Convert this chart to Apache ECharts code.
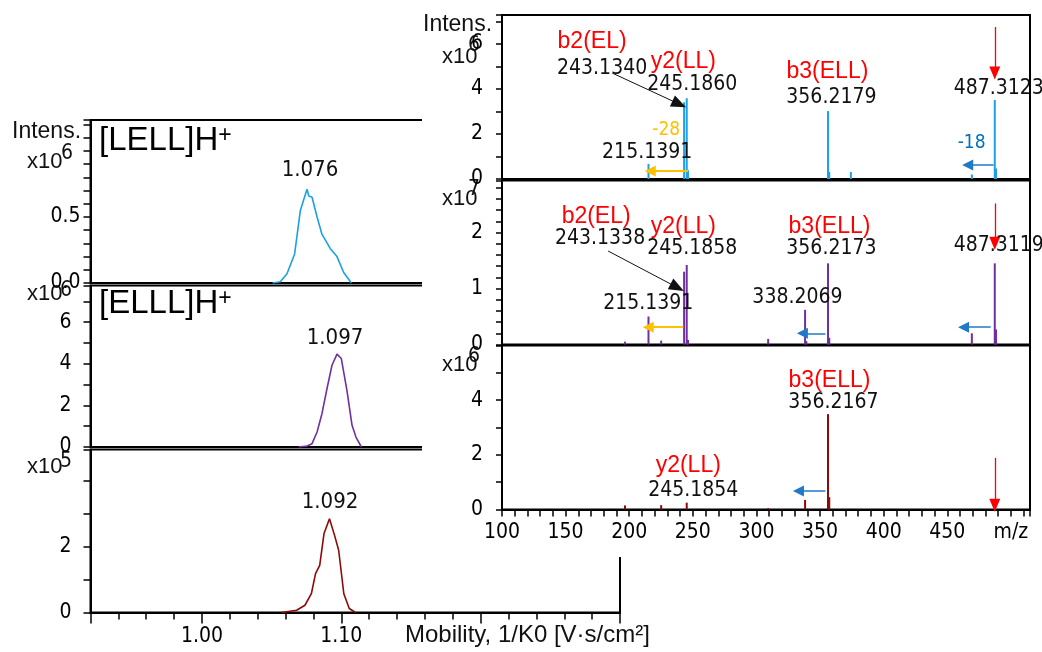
<!DOCTYPE html>
<html><head><meta charset="utf-8">
<script src="https://cdn.jsdelivr.net/npm/echarts@6/dist/echarts.min.js"></script>
<style>
html,body{margin:0;padding:0;background:#fff;}
#left{position:absolute;left:0;top:0;width:1042px;height:652px;}
#right{position:absolute;left:422px;top:0;width:620px;height:557px;background:#fff;}
</style></head><body>
<div id="left"></div><div id="right"></div>
<script>
// ---------- DATA ----------
// Mobilograms: [1/K0, intensity]
const mobLELL = [[1.0507,0],[1.0562,0.01],[1.061,0.07],[1.0665,0.22],[1.0706,0.55],[1.073,0.63],[1.0754,0.71],[1.0766,0.66],[1.079,0.65],[1.0826,0.50],[1.0861,0.37],[1.0921,0.26],[1.0969,0.20],[1.1017,0.08],[1.1072,0]];
const mobELLL = [[1.0694,0],[1.0754,0.05],[1.079,0.16],[1.0826,0.72],[1.0861,1.6],[1.0897,2.8],[1.0933,3.93],[1.0969,4.46],[1.1,4.25],[1.104,2.73],[1.1077,1.04],[1.1105,0.48],[1.1144,0]];
const mobMix = [[1.0573,0],[1.0619,0.03],[1.0679,0.07],[1.0739,0.22],[1.0785,0.57],[1.0815,1.18],[1.0845,1.43],[1.0876,2.4],[1.0915,2.85],[1.0951,2.35],[1.0981,1.89],[1.1018,0.57],[1.1057,0.12],[1.1102,0]];
const mobPeakLabels = ['1.076','1.097','1.092'];
const mobPeakPos = [[1.0775,0.854],[1.0955,5.23],[1.0919,3.35]];
const mobNames = ['[LELL]H','[ELLL]H'];
const mobXTickLabels = ['1.00','1.10'];
const mobYTickLabels = [['0.0','0.5'],['0','2','4','6'],['0','2']];
const mobYTickValues = [[0,0.5],[0,2,4,6],[0,2]];

// Spectra: m/z and intensity
const specTopMz  = [215.14,243.13,245.19,246.19,356.22,357.22,374.2,469.30,487.31,488.31];
const specTopInt = [0.67,3.41,3.59,0.40,3.02,0.31,0.31,0.20,3.51,0.47];
const specMidMz  = [196.7,215.14,225.1,243.13,245.19,246.19,309.2,338.21,339.21,356.22,357.22,469.30,487.31,488.31];
const specMidInt = [0.05,0.50,0.07,1.30,1.42,0.08,0.10,0.62,0.06,1.45,0.12,0.20,1.45,0.27];
const specBotMz  = [196.7,225.1,245.19,309.2,338.21,356.22,357.22];
const specBotInt = [0.15,0.16,0.25,0.05,0.35,3.49,0.45];
const specXTickValues = [100,150,200,250,300,350,400,450,500];
const specXTickLabels = ['100','150','200','250','300','350','400','450','m/z'];
const specYTickValues = [[0,2,4,6],[0,1,2],[0,2,4]];
const specYTickLabels = [['0','2','4','6'],['0','1','2'],['0','2','4']];

// Annotations (text, m/z, intensity, kind)
const topTexts = [['b2(EL)',170.8,6.09,'ion'],['243.1340',178.7,4.93,'mass'],['y2(LL)',242.5,5.2,'ion'],['245.1860',249.5,4.18,'mass'],['b3(ELL)',355.8,4.76,'ion'],['356.2179',358.9,3.64,'mass'],['487.3123',490.4,4.0,'mass'],['-28',229.1,2.18,'loss28'],['215.1391',214.1,1.16,'mass'],['-18',469.1,1.6,'loss18']];
const midTexts = [['b2(EL)',174,2.29,'ion'],['243.1338',177.1,1.9,'mass'],['y2(LL)',242.5,2.11,'ion'],['245.1858',249.5,1.72,'mass'],['b3(ELL)',357.4,2.11,'ion'],['356.2173',358.9,1.72,'mass'],['487.3119',490.4,1.76,'mass'],['215.1391',214.9,0.74,'mass'],['338.2069',332.2,0.83,'mass']];
const botTexts = [['b3(ELL)',357.4,4.7,'ion'],['356.2167',360.5,3.9,'mass'],['y2(LL)',246.4,1.59,'ion'],['245.1854',250.3,0.71,'mass']];
// Arrows: [x1,y1,x2,y2,kind]
const topArrows = [[487.31,6.76,487.31,4.71,'precursor'],[246.4,0.36,216.5,0.36,'loss28'],[486.4,0.62,466,0.62,'loss18'],[186.6,4.71,239.3,3.33,'pointer']];
const midArrows = [[487.31,2.52,487.31,1.81,'precursor'],[183.4,1.67,237.7,1.02,'pointer'],[242.5,0.31,214.9,0.31,'loss28'],[354.2,0.2,336.1,0.2,'loss18'],[484.1,0.31,462.8,0.31,'loss18']];
const botArrows = [[354.2,0.68,333.0,0.68,'loss18'],[487.31,1.89,487.31,0.16,'precursor']];

// ---------- STYLE ----------
const NUM = "'DejaVu Sans Condensed','DejaVu Sans'";
const WRD = "'Liberation Sans','DejaVu Sans'";
const textStyles = {
  ion:{color:'#ff0000',fontSize:23,fontFamily:WRD},
  mass:{color:'#111',fontSize:21,fontFamily:NUM},
  loss28:{color:'#ffc000',fontSize:19,fontFamily:NUM},
  loss18:{color:'#0070c0',fontSize:19,fontFamily:NUM}
};
const arrowStyles = {
  precursor:{color:'#ff0000',width:1.3,size:[11,13]},
  loss28:{color:'#ffc000',width:2,size:[11,11]},
  loss18:{color:'#1f78c8',width:1.5,size:[11,11]},
  pointer:{color:'#111',width:1,size:[12,15]}
};
function near(v, arr){ for(let i=0;i<arr.length;i++){ if(Math.abs(v-arr[i])<1e-6) return i; } return -1; }
function fmt(values, labels){ return function(v){ const i=near(v,values); return i<0?'':labels[i]; }; }
function txt(s,l,t,size,fam){ return {type:'text',left:l,top:t,style:{text:s,font:size+'px '+(fam||WRD),fill:'#111'}}; }

// ---------- LEFT CHART ----------
const L = echarts.init(document.getElementById('left'), null, {renderer:'canvas'});
const lGridTop = [120,285.5,449.5], lGridH = [163,161.5,163];
const lYMax = [1.235,7.76,4.95], lYInt = [0.1,1,1];
const mobColors = ['#1ba1e2','#7030a0','#8b0a0a'];
const mobData = [mobLELL,mobELLL,mobMix];
const lOpt = {
  animation:false,
  grid: lGridTop.map((t,i)=>({left:90.5,top:t,width:529.5,height:lGridH[i],show:true,borderColor:'#000',borderWidth:2,backgroundColor:'transparent'})),
  xAxis: [0,1,2].map(i=>({type:'value',gridIndex:i,position:'bottom',min:0.92,max:1.30,interval:0.02,
      axisLine:{show:i===2,lineStyle:{color:'#000',width:2}},
      axisTick:{show:i===2,length:7,lineStyle:{color:'#000',width:1.5}},
      axisLabel:{show:false},splitLine:{show:false}})).concat([
      {type:'value',gridIndex:2,position:'bottom',min:0.92,max:1.30,minInterval:0.1,maxInterval:0.1,
       axisLine:{show:false},axisTick:{show:true,length:11,lineStyle:{color:'#000',width:1.5}},
       axisLabel:{show:true,margin:14,fontSize:21,color:'#000',fontFamily:NUM,formatter:fmt([1.0,1.1],mobXTickLabels)},
       splitLine:{show:false}}]),
  yAxis: [0,1,2].map(i=>({type:'value',gridIndex:i,min:0,max:lYMax[i],interval:lYInt[i],
      axisLine:{show:true,lineStyle:{color:'#000',width:2}},
      axisTick:{show:true,length:7,lineStyle:{color:'#000',width:1.5}},
      axisLabel:{show:true,margin:25,align:'center',fontSize:21,color:'#000',fontFamily:NUM,formatter:fmt(mobYTickValues[i],mobYTickLabels[i])},
      splitLine:{show:false}})),
  series: [0,1,2].map(i=>({type:'line',xAxisIndex:i,yAxisIndex:i,data:mobData[i],showSymbol:false,symbol:'none',
      lineStyle:{color:mobColors[i],width:1.6},silent:true,
      markPoint:{symbol:'circle',symbolSize:1,itemStyle:{color:'transparent'},silent:true,
        label:{show:true,position:'inside',color:'#111',fontSize:22,fontFamily:NUM},
        data:[{coord:mobPeakPos[i],label:{formatter:mobPeakLabels[i]}}]}})),
  graphic:[
    txt('Intens.',12,120,23), txt('x10',27,151,22), txt('6',61,143,21,NUM),
    txt('x10',27,283,22), txt('6',60,280,21,NUM),
    txt('x10',27,456,22), txt('5',60,451,21,NUM),
    {type:'text',left:99,top:124,style:{text:'{a|'+mobNames[0]+'}{s|+}',rich:{a:{fontSize:33,fontFamily:WRD,fill:'#000'},s:{fontSize:23,fontFamily:WRD,verticalAlign:'top',fill:'#000'}}}},
    {type:'text',left:99,top:287,style:{text:'{a|'+mobNames[1]+'}{s|+}',rich:{a:{fontSize:33,fontFamily:WRD,fill:'#000'},s:{fontSize:23,fontFamily:WRD,verticalAlign:'top',fill:'#000'}}}},
    txt('Mobility, 1/K0 [V·s/cm²]',405,623,24)
  ]
};
L.setOption(lOpt);

// ---------- RIGHT CHART ----------
const R = echarts.init(document.getElementById('right'), null, {renderer:'canvas'});
const rGridTop = [15,180.5,345.5];
const rYMax = [7.29,2.93,6.0], rYInt = [1,0.2,1];
const specColors = ['#1ea0e6','#7030a0','#8b0a0a'];
const specData = [
  specTopMz.map((m,i)=>[m,specTopInt[i]]),
  specMidMz.map((m,i)=>[m,specMidInt[i]]),
  specBotMz.map((m,i)=>[m,specBotInt[i]])
];
const texts = [topTexts,midTexts,botTexts];
const arrows = [topArrows,midArrows,botArrows];
function mkText(t){ const s=textStyles[t[3]]; return {coord:[t[1],t[2]],label:{formatter:t[0],color:s.color,fontSize:s.fontSize,fontFamily:s.fontFamily}}; }
function mkArrow(a){ const s=arrowStyles[a[4]];
  return [{coord:[a[0],a[1]],symbol:'none',lineStyle:{color:s.color,width:s.width,type:'solid'}},
          {coord:[a[2],a[3]],symbol:'triangle',symbolSize:s.size,lineStyle:{color:s.color,width:s.width,type:'solid'},itemStyle:{color:s.color}}]; }
const rOpt = {
  animation:false,
  grid: rGridTop.map(t=>({left:80,top:t,width:528,height:164,show:true,borderColor:'#000',borderWidth:2,backgroundColor:'transparent'})),
  xAxis: [0,1,2].map(i=>({type:'value',gridIndex:i,position:'bottom',min:100,max:515,interval:10,
      axisLine:{show:true,lineStyle:{color:'#000',width:2}},
      axisTick:{show:i===2,length:7,lineStyle:{color:'#000',width:1.5}},
      axisLabel:{show:i===2,margin:13,fontSize:21,color:'#000',fontFamily:NUM,formatter:fmt(specXTickValues,specXTickLabels)},
      splitLine:{show:false}})),
  yAxis: [0,1,2].map(i=>({type:'value',gridIndex:i,min:0,max:rYMax[i],interval:rYInt[i],
      axisLine:{show:true,lineStyle:{color:'#000',width:2}},
      axisTick:{show:true,length:6,lineStyle:{color:'#000',width:1.5}},
      axisLabel:{show:true,margin:25,align:'center',fontSize:21,color:'#000',fontFamily:NUM,formatter:fmt(specYTickValues[i],specYTickLabels[i])},
      splitLine:{show:false}})),
  series: [0,1,2].map(i=>({type:'bar',xAxisIndex:i,yAxisIndex:i,data:specData[i],barWidth:2,silent:true,
      itemStyle:{color:specColors[i]},
      markPoint:{symbol:'circle',symbolSize:1,itemStyle:{color:'transparent'},silent:true,
        label:{show:true,position:'inside'},
        data:texts[i].map(mkText)},
      markLine:{silent:true,symbol:['none','triangle'],label:{show:false},animation:false,
        data:arrows[i].map(mkArrow)}})),
  graphic:[
    txt('Intens.',1,13,23), txt('x10',20,46,22), txt('6',46,35,21,NUM),
    txt('x10',20,188,22), txt('7',46,179,21,NUM),
    txt('x10',20,354,22), txt('6',46,346,21,NUM)
  ]
};
R.setOption(rOpt);
</script>
</body></html>
